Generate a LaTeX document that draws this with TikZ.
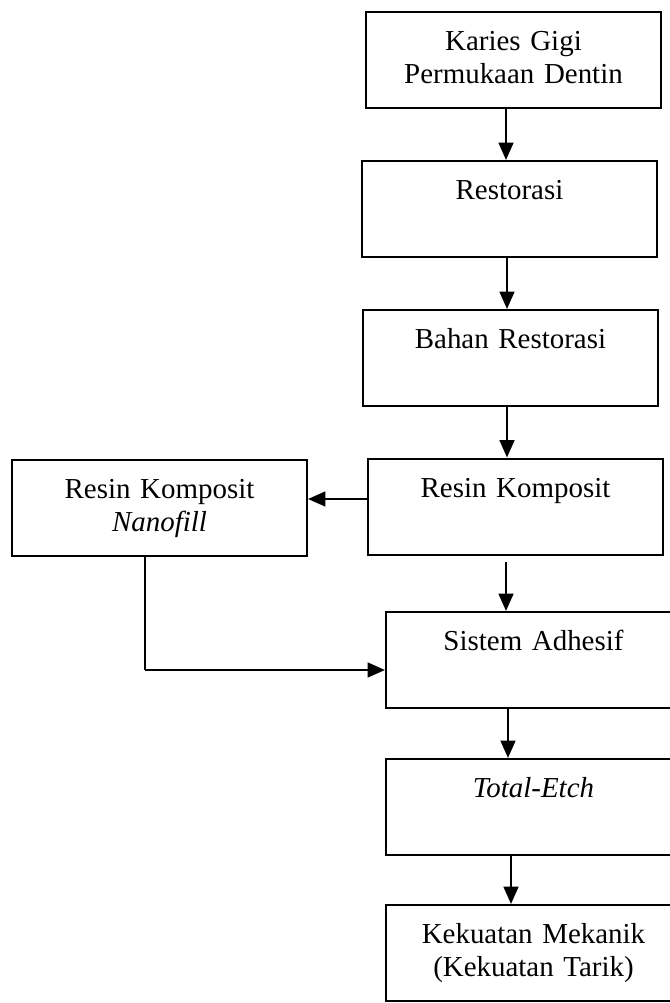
\documentclass[tikz,border=0pt]{standalone}
\usepackage{fontspec}
\setmainfont{Liberation Serif}
\usetikzlibrary{arrows.meta,calc}

\tikzset{
  kotak/.style={draw, line width=1.5pt, text width=221.25pt, align=center,
    inner xsep=0pt, inner ysep=0pt, text height=29pt, text depth=43pt,
    font=\fontsize{21.7}{24.75}\selectfont},
  panah/.style={line width=1.8pt, -{Triangle[length=13pt,width=11pt]}},
  garistipis/.style={line width=1.2pt},
}

\begin{document}
\begin{tikzpicture}[x=0.75pt,y=0.75pt,yscale=-1,xscale=1]
\useasboundingbox (0,0) rectangle (670,1003);

%Shape: Rectangle [kolom kanan]
\node[kotak] (kar) at (513.5,59.5) {Karies Gigi\\Permukaan Dentin};
\node[kotak] (res) at (509.5,209) {Restorasi};
\node[kotak] (bah) at (510.5,358) {Bahan Restorasi};
\node[kotak] (kom) at (515.5,506.5) {Resin Komposit};
\node[kotak] (sis) at (533.5,660) {Sistem Adhesif};
\node[kotak] (tot) at (533.5,807) {\textit{Total-Etch}};
\node[kotak] (kek) at (533.5,953) {Kekuatan Mekanik\\(Kekuatan Tarik)};
%Shape: Rectangle [kiri]
\node[kotak] (nan) at (159.5,508) {Resin Komposit\\\textit{Nanofill}};

%Straight Lines [turun]
\coordinate (p1) at ($(kar.south)+(-7.5,0)$);
\draw[panah] (p1) -- (p1 |- res.north);
\coordinate (p2) at ($(res.south)+(-2.5,0)$);
\draw[panah] (p2) -- (p2 |- bah.north);
\coordinate (p3) at ($(bah.south)+(-3.5,0)$);
\draw[panah] (p3) -- (p3 |- kom.north);
\coordinate (p4) at ($(kom.south)+(-9.5,6)$);
\draw[panah] (p4) -- (p4 |- sis.north);
\coordinate (p5) at ($(sis.south)+(-25.5,0)$);
\draw[panah] (p5) -- (p5 |- tot.north);
\coordinate (p6) at ($(tot.south)+(-22.5,0)$);
\draw[panah] (p6) -- (p6 |- kek.north);

%Straight Lines [ke kiri]
\coordinate (p7) at ($(kom.west)+(0,-7.5)$);
\draw[panah] (p7) -- (p7 -| nan.east);
%Straight Lines [belok]
\coordinate (p8) at ($(nan.south)+(-14.5,0)$);
\coordinate (p9) at ($(sis.west)+(0,10)$);
\draw[garistipis] (p8) -- (p8 |- p9);
\draw[panah] (p8 |- p9) -- (p9);

\end{tikzpicture}
\end{document}
